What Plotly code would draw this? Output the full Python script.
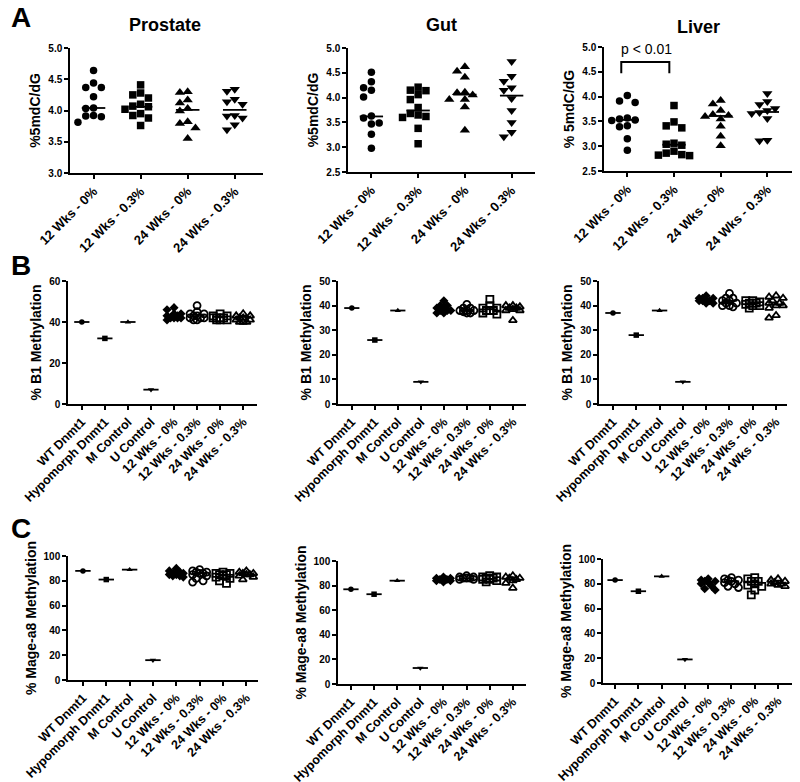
import math
import numpy as np
import plotly.graph_objects as go

# ---------------- DATA ----------------
groups_A = ["12 Wks - 0%", "12 Wks - 0.3%", "24 Wks - 0%", "24 Wks - 0.3%"]
groups_BC = ["WT Dnmt1", "Hypomorph Dnmt1", "M Control", "U Control",
             "12 Wks - 0%", "12 Wks - 0.3%", "24 Wks - 0%", "24 Wks - 0.3%"]

# Panel A: %5mdC/dG
prostate_A = [
    [4.64, 4.44, 4.37, 4.37, 4.22, 4.04, 4.03, 3.92, 3.91, 3.90, 3.81],
    [4.41, 4.28, 4.25, 4.20, 4.10, 4.07, 4.06, 4.02, 3.95, 3.92, 3.88, 3.76],
    [4.30, 4.29, 4.17, 4.12, 4.03, 3.99, 3.82, 3.79, 3.72, 3.55],
    [4.34, 4.31, 4.18, 4.14, 4.10, 3.92, 3.91, 3.88, 3.77, 3.69],
]
gut_A = [
    [4.51, 4.32, 4.20, 4.15, 4.01, 3.63, 3.59, 3.49, 3.47, 3.26, 2.98],
    [4.21, 4.15, 4.14, 4.06, 3.96, 3.80, 3.68, 3.65, 3.62, 3.60, 3.38, 3.07],
    [4.62, 4.53, 4.41, 4.11, 4.10, 4.05, 3.96, 3.96, 3.81, 3.34],
    [4.73, 4.43, 4.33, 4.20, 4.15, 3.98, 3.74, 3.50, 3.30, 3.21],
]
liver_A = [
    [4.02, 3.91, 3.88, 3.57, 3.55, 3.53, 3.52, 3.41, 3.39, 3.15, 2.92],
    [3.82, 3.49, 3.41, 3.37, 3.06, 3.04, 3.02, 2.90, 2.86, 2.83, 2.82, 2.81],
    [3.92, 3.85, 3.72, 3.64, 3.62, 3.60, 3.55, 3.40, 3.20, 3.01],
    [4.06, 3.90, 3.84, 3.76, 3.72, 3.68, 3.66, 3.56, 3.12, 3.11],
]
prostate_A_center = [4.04, 4.06, 4.01, 4.01]
gut_A_center = [3.62, 3.74, 4.06, 4.04]
liver_A_center = [3.53, 3.03, 3.61, 3.69]

# Panel B: % B1 methylation
prostate_B_controls = [40, 32, 40, 7]
gut_B_controls = [39, 26, 38, 9]
liver_B_controls = [37, 28, 38, 9]
prostate_B = [
    [47, 46, 44, 43, 42, 42, 42, 43, 44, 41, 42],
    [48, 45, 44, 43, 42, 42, 41, 41, 43, 44, 42],
    [44, 43, 42, 42, 41, 41, 42, 43, 42, 41],
    [44, 43, 42, 41, 40, 40, 41, 43, 42, 40],
]
gut_B = [
    [42, 40, 39, 38, 37, 38, 39, 37, 38, 40],
    [40.5, 39, 38, 37, 37, 38, 37.5, 38, 39],
    [42.5, 40, 39, 38, 37, 36.5, 38, 39, 38],
    [40, 39.5, 39, 38.5, 38, 38, 39, 40, 34],
]
liver_B = [
    [44, 43, 43, 42, 42, 41, 42, 43, 41, 42],
    [45, 43, 42, 41, 40, 40, 41, 42, 43, 39.5],
    [42, 41.5, 41, 40.5, 40, 39, 41, 42, 40, 41],
    [44, 43.5, 43, 42, 41, 40, 40, 39, 36, 35, 41],
]
prostate_B_center = [43.5, 43.5, 42.5, 42.5]
gut_B_center = [38.5, 38, 38.5, 39]
liver_B_center = [42.5, 42, 41, 40.5]

# Panel C: % Mage-a8 methylation
prostate_C_controls = [88, 81, 89, 16]
gut_C_controls = [77, 73, 84, 13]
liver_C_controls = [83, 74, 86, 19]
prostate_C = [
    [90, 88, 87, 86, 85, 84, 84, 83, 85, 86],
    [89, 88, 87, 86, 86, 85, 84, 82, 80, 79, 87],
    [87, 86, 85, 85, 84, 83, 82, 80, 78, 86],
    [88, 87, 86, 85, 85, 84, 83, 81, 86],
]
gut_C = [
    [87, 86, 85, 85, 84, 84, 83, 85, 86],
    [88, 87, 86, 86, 85, 85, 86, 87],
    [88, 87, 86, 85, 84, 83, 85, 86, 87],
    [88, 87, 86, 85, 84, 82, 78, 86],
]
liver_C = [
    [84, 83, 82, 81, 80, 78, 76, 75, 82],
    [85, 84, 83, 82, 81, 80, 78, 77, 83],
    [85, 84, 82, 80, 79, 78, 75, 71, 82],
    [84, 83, 82, 81, 80, 79, 78, 80],
]
prostate_C_center = [85.5, 86, 85, 85]
gut_C_center = [85, 86, 85.5, 85]
liver_C_center = [81.5, 82, 81, 80.5]

# ---------------- LAYOUT HELPERS ----------------
# page body has an 8px margin: the figure is drawn at (8, 8) in the window
OFF = 8
W, H = 800 - OFF, 782 - OFF
FONT = "Liberation Sans"


def px2x(px):
    return (px - OFF) / W


def px2y(py):
    return 1 - (py - OFF) / H


def swarm(vals, px_y, px_x, step_px, min_px, kmax):
    """Simple beeswarm offsets (in category units)."""
    cands = [0]
    for k in range(1, kmax + 1):
        cands += [-k, k]
    placed = []
    offs = [0.0] * len(vals)
    for i in np.argsort(-np.asarray(vals), kind="stable"):
        ypx = vals[i] * px_y
        chosen, best_c, best_d = None, 0, -1
        for c in cands:
            xpx = c * step_px
            d = min([math.hypot(xpx - a, ypx - b) for a, b in placed], default=1e9)
            if d >= min_px:
                chosen = c
                break
            if d > best_d:
                best_d, best_c = d, c
        if chosen is None:
            chosen = best_c
        placed.append((chosen * step_px, ypx))
        offs[i] = chosen * step_px / px_x
    return offs


fig = go.Figure()
layout_axes = {}
annotations = []

panels = [
    ("A1", "A", prostate_A, None, prostate_A_center, (70, 263, 48, 173), [-0.5, 3.6], [3.0, 5.0], 0.5, "%5mdC/dG"),
    ("A2", "A", gut_A, None, gut_A_center, (348, 535, 48, 172), [-0.5, 3.5], [2.5, 5.0], 0.5, "%5mdC/dG"),
    ("A3", "A", liver_A, None, liver_A_center, (604, 793, 47, 171), [-0.5, 3.55], [2.5, 5.0], 0.5, "% 5mdC/dG"),
    ("B1", "B", prostate_B, prostate_B_controls, prostate_B_center, (68, 257, 281, 404), [-0.6, 7.6], [0, 60], 20, "% B1 Methylation"),
    ("B2", "B", gut_B, gut_B_controls, gut_B_center, (338, 526, 281, 404), [-0.6, 7.57], [0, 50], 10, "% B1 Methylation"),
    ("B3", "B", liver_B, liver_B_controls, liver_B_center, (599, 787, 281, 404), [-0.6, 7.47], [0, 50], 10, "% B1 Methylation"),
    ("C1", "C", prostate_C, prostate_C_controls, prostate_C_center, (68, 258, 556, 680), [-0.64, 7.5], [0, 100], 20, "% Mage-a8 Methylation"),
    ("C2", "C", gut_C, gut_C_controls, gut_C_center, (338, 526, 561, 684), [-0.56, 7.57], [0, 100], 20, "% Mage-a8 Methylation"),
    ("C3", "C", liver_C, liver_C_controls, liver_C_center, (603, 792, 559, 683), [-0.52, 7.6], [0, 100], 20, "% Mage-a8 Methylation"),
]

sym_A = ["circle", "square", "triangle-up", "triangle-down"]
sym_ctrl = ["circle", "square", "triangle-up", "triangle-down"]
sym_trt = ["diamond", "circle-open", "square-open", "triangle-up-open"]

for idx, (name, kind, data, controls, centers, box, xr, yr, dtick, ytitle) in enumerate(panels):
    n = idx + 1
    xa = "x" if n == 1 else f"x{n}"
    ya = "y" if n == 1 else f"y{n}"
    l, r, t, b = box
    px_x = (r - l) / (xr[1] - xr[0])
    px_y = (b - t) / (yr[1] - yr[0])

    labels = groups_A if kind == "A" else groups_BC
    seg_x, seg_y = [], []

    if kind == "A":
        half = 0.25
        for g, vals in enumerate(data):
            offs = swarm(vals, px_y, px_x, 7.8, 7.4, 3)
            fig.add_trace(go.Scatter(
                x=[g + o for o in offs], y=vals, xaxis=xa, yaxis=ya, mode="markers",
                marker=dict(symbol=sym_A[g], color="black",
                            size=9 if "triangle" in sym_A[g] else 7.5, line=dict(width=0)),
                cliponaxis=False, showlegend=False, hoverinfo="skip"))
            seg_x += [g - half, g + half, None]
            seg_y += [centers[g], centers[g], None]
    else:
        half = 0.33
        for g, v in enumerate(controls):
            fig.add_trace(go.Scatter(
                x=[g], y=[v], xaxis=xa, yaxis=ya, mode="markers",
                marker=dict(symbol=sym_ctrl[g], color="black", size=5.5, line=dict(width=0)),
                cliponaxis=False, showlegend=False, hoverinfo="skip"))
            seg_x += [g - half, g + half, None]
            seg_y += [v, v, None]
        for g, vals in enumerate(data):
            pos = g + 4
            offs = swarm(vals, px_y, px_x, 3.5, 5.0, 2)
            sym = sym_trt[g]
            fig.add_trace(go.Scatter(
                x=[pos + o for o in offs], y=vals, xaxis=xa, yaxis=ya, mode="markers",
                marker=dict(symbol=sym, color="black", size=7,
                            line=dict(width=1.8 if "open" in sym else 0, color="black")),
                cliponaxis=False, showlegend=False, hoverinfo="skip"))
            seg_x += [pos - half, pos + half, None]
            seg_y += [centers[g], centers[g], None]

    fig.add_trace(go.Scatter(x=seg_x, y=seg_y, xaxis=xa, yaxis=ya, mode="lines",
                             line=dict(color="black", width=1.8), cliponaxis=False,
                             showlegend=False, hoverinfo="skip"))

    xkey = "xaxis" if n == 1 else f"xaxis{n}"
    ykey = "yaxis" if n == 1 else f"yaxis{n}"
    layout_axes[xkey] = dict(
        domain=[px2x(l), px2x(r)], anchor=ya, range=xr, automargin=False,
        tickmode="array", tickvals=list(range(len(labels))), ticktext=labels,
        tickangle=-45,
        tickfont=dict(family=FONT, size=13 if kind == "A" else 12.5, color="black", weight="bold"),
        showline=True, linecolor="black", linewidth=1.5,
        ticks="outside", ticklen=4, tickwidth=1.5, tickcolor="black",
        showgrid=False, zeroline=False, fixedrange=True)
    ytickvals = list(np.arange(yr[0], yr[1] + dtick / 2, dtick))
    layout_axes[ykey] = dict(
        domain=[px2y(b), px2y(t)], anchor=xa, range=yr, automargin=False,
        tickmode="array", tickvals=ytickvals,
        ticktext=[(f"{v:.1f}" if kind == "A" else f"{v:g}") for v in ytickvals],
        tickfont=dict(family=FONT, size=10, color="black", weight="bold"),
        showline=True, linecolor="black", linewidth=1.5,
        ticks="outside", ticklen=4, tickwidth=1.5, tickcolor="black",
        showgrid=False, zeroline=False, fixedrange=True,
        title=dict(text=ytitle, standoff=4,
                   font=dict(family=FONT, size=14, color="black", weight="bold")))

# significance bracket on liver panel A
fig.add_trace(go.Scatter(x=[-0.13, -0.13, 0.9, 0.9], y=[4.47, 4.70, 4.70, 4.47],
                         xaxis="x3", yaxis="y3", mode="lines",
                         line=dict(color="black", width=2), cliponaxis=False,
                         showlegend=False, hoverinfo="skip"))
annotations.append(dict(text="p < 0.01", x=0.41, y=4.96, xref="x3", yref="y3",
                        showarrow=False, font=dict(family=FONT, size=14, color="black")))

for txt, px, py, sz in [("Prostate", 165, 25, 18), ("Gut", 441, 25, 18), ("Liver", 698, 27, 18),
                        ("A", 21, 18, 28), ("B", 21, 265, 28), ("C", 21, 528, 28)]:
    annotations.append(dict(text=txt, x=px2x(px), y=px2y(py), xref="paper", yref="paper",
                            xanchor="center", yanchor="middle", showarrow=False,
                            font=dict(family=FONT, size=sz, color="black", weight="bold")))

fig.update_layout(template="none", width=W, height=H, margin=dict(l=0, r=0, t=0, b=0),
                  paper_bgcolor="white", plot_bgcolor="white",
                  annotations=annotations, showlegend=False, **layout_axes)

fig.write_html("out.html")
